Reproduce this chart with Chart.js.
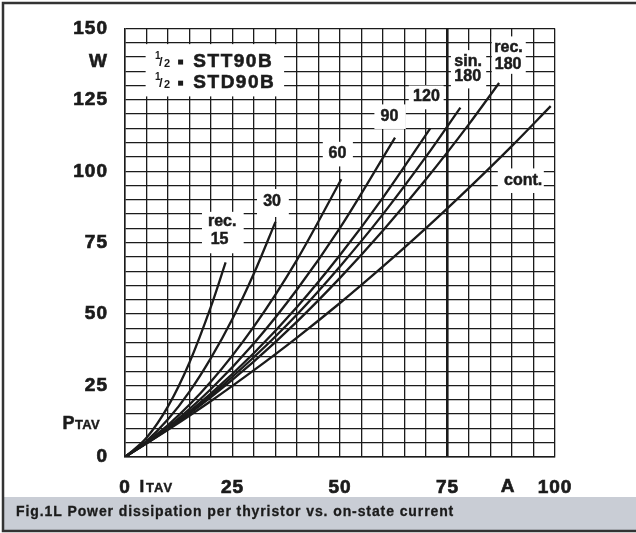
<!DOCTYPE html>
<html>
<head>
<meta charset="utf-8">
<script src="https://cdn.jsdelivr.net/npm/chart.js@4.4.1/dist/chart.umd.min.js"></script>
<style>
  html, body { margin: 0; padding: 0; background: #ffffff; }
  #wrap { position: relative; width: 636px; height: 533px; }
</style>
</head>
<body>
<div id="wrap"><canvas id="c"></canvas></div>
<script>
// ---- Data (I_TAV in A, P_TAV in W) ----
const currentCont   = [0, 10, 20, 30, 40, 50, 60, 70, 80, 90, 99];
const powerCont     = [0, 9.5, 19.6, 30.4, 41.8, 53.9, 66.7, 80.1, 94.2, 108.9, 122.8];

const currentRec180 = [0, 10, 20, 30, 40, 50, 60, 70, 80, 87];
const powerRec180   = [0, 9.8, 21.0, 33.5, 47.4, 62.7, 79.3, 97.2, 116.5, 130.9];

const currentSin180 = [0, 10, 20, 30, 40, 50, 60, 70, 78];
const powerSin180   = [0, 10.0, 21.6, 35.0, 49.9, 66.7, 85.0, 105.1, 122.3];

const currentRec120 = [0, 10, 20, 30, 40, 50, 60, 71];
const powerRec120   = [0, 10.1, 22.3, 36.4, 52.5, 70.7, 90.8, 115.0];

const currentRec90  = [0, 10, 20, 30, 40, 50, 62.8];
const powerRec90    = [0, 10.5, 23.8, 39.8, 58.6, 80.2, 111.8];

const currentRec60  = [0, 10, 20, 30, 40, 50.3];
const powerRec60    = [0, 11.2, 26.4, 45.7, 69.0, 97.2];

const currentRec30  = [0, 5, 10, 15, 20, 25, 30, 35];
const powerRec30    = [0, 5.6, 13.2, 22.9, 34.7, 48.4, 64.3, 82.3];

const currentRec15  = [0, 5, 10, 15, 20, 23.4];
const powerRec15    = [0, 6.7, 17.7, 33.1, 52.7, 68.1];

const xTickLabels = [0, 25, 50, 75, 100];
const yTickLabels = [0, 25, 50, 75, 100, 125, 150];

const captionText = 'Fig.1L Power dissipation per thyristor vs. on-state current';
const titleLines = ['STT90B', 'STD90B'];

// ---- Helpers ----
function pts(xs, ys) { return xs.map((x, i) => ({ x: x, y: ys[i] })); }
const INK = '#1b1b1b';
const FONT = '"Liberation Sans", Arial, Helvetica, sans-serif';

function curve(label, xs, ys) {
  return {
    label: label,
    data: pts(xs, ys),
    borderColor: INK,
    borderWidth: 2.3,
    pointRadius: 0,
    fill: false,
    cubicInterpolationMode: 'monotone'
  };
}

// Curve labels (positions in data units)
const curveLabels = [
  { lines: [['rec.', 22.6, 82.5], ['15', 22.0, 76.2]], box: [17.9, 27.6, 71.3, 85.8] },
  { lines: [['30', 34.2, 89.4]], box: [30.7, 38.1, 84.0, 93.8] },
  { lines: [['60', 49.4, 106.2]], box: [46.0, 53.0, 101.7, 110.3] },
  { lines: [['90', 61.5, 119.3]], box: [58.0, 65.3, 114.8, 123.4] },
  { lines: [['120', 70.1, 126.0]], box: [66.0, 74.1, 121.7, 130.0] },
  { lines: [['sin.', 79.8, 138.3], ['180', 79.7, 133.1]], box: [75.8, 84.0, 129.0, 142.4] },
  { lines: [['rec.', 89.2, 143.3], ['180', 89.1, 137.2]], box: [85.3, 93.2, 134.1, 147.2] },
  { lines: [['cont.', 92.6, 96.8]], box: [86.7, 97.4, 92.4, 101.0] }
];

function boldText(ctx, s, x, y, w) {
  ctx.lineWidth = w || 0.5;
  ctx.strokeStyle = ctx.fillStyle;
  ctx.strokeText(s, x, y);
  ctx.fillText(s, x, y);
}

const decorPlugin = {
  id: 'decor',
  beforeDraw(chart) {
    const ctx = chart.ctx;
    const W = chart.width, H = chart.height;
    ctx.save();
    ctx.fillStyle = '#ffffff';
    ctx.fillRect(0, 0, W, H);
    // caption bar
    ctx.fillStyle = '#c9cdd5';
    ctx.fillRect(3, 497, W - 3, 33);
    ctx.fillStyle = INK;
    ctx.font = 'bold 14px ' + FONT;
    ctx.letterSpacing = '0.9px';
    ctx.textBaseline = 'middle';
    ctx.textAlign = 'left';
    boldText(ctx, captionText, 16, 512, 0.3);
    ctx.letterSpacing = '0px';
    // outer frame
    ctx.strokeStyle = '#333333';
    ctx.lineWidth = 2.5;
    ctx.beginPath();
    ctx.moveTo(W, 3); ctx.lineTo(3, 3); ctx.lineTo(3, 531); ctx.lineTo(W, 531);
    ctx.stroke();
    ctx.restore();
    ctx.letterSpacing = '1px';
  },
  beforeDatasetsDraw(chart) {
    const ctx = chart.ctx;
    const xs = chart.scales.x, ys = chart.scales.y;
    const X = v => xs.getPixelForValue(v), Y = v => ys.getPixelForValue(v);
    ctx.save();
    ctx.letterSpacing = '0px';
    // white boxes + curve labels
    ctx.font = 'bold 16px ' + FONT;
    ctx.textAlign = 'center';
    ctx.textBaseline = 'middle';
    curveLabels.forEach(l => {
      const [x0, x1, y0, y1] = l.box;
      ctx.fillStyle = '#ffffff';
      ctx.fillRect(X(x0), Y(y1), X(x1) - X(x0), Y(y0) - Y(y1));
      ctx.fillStyle = INK;
      l.lines.forEach(t => boldText(ctx, t[0], X(t[1]), Y(t[2]), 0.5));
    });
    // title box
    ctx.fillStyle = '#ffffff';
    ctx.fillRect(X(4.8), Y(144.5), X(37) - X(4.8), Y(126.2) - Y(144.5));
    ctx.fillStyle = INK;
    [138.4, 131.0].forEach((pv, i) => {
      const yy = Y(pv);
      const x0 = X(7.0);
      ctx.textAlign = 'left';
      ctx.textBaseline = 'middle';
      ctx.font = 'bold 10px ' + FONT;
      ctx.fillText('1', x0, yy - 5);
      ctx.font = 'bold 13px ' + FONT;
      ctx.fillText('/', x0 + 4, yy + 0.5);
      ctx.font = 'bold 11px ' + FONT;
      ctx.fillText('2', x0 + 9, yy + 2);
      ctx.fillRect(x0 + 23, yy - 2, 5, 5);
      ctx.font = 'bold 19px ' + FONT;
      ctx.letterSpacing = '1.5px';
      boldText(ctx, titleLines[i], X(15.9), yy + 0.5, 0.6);
      ctx.letterSpacing = '0px';
    });
    // axis symbols
    ctx.textBaseline = 'middle';
    ctx.font = 'bold 19px ' + FONT;
    ctx.letterSpacing = '1px';
    ctx.textAlign = 'right';
    boldText(ctx, 'W', xs.left - 17, Y(138.4), 0.6);
    ctx.textAlign = 'center';
    boldText(ctx, 'A', X(89.1), 486.5, 0.6);
    ctx.letterSpacing = '0px';
    // P_TAV
    ctx.textAlign = 'left';
    ctx.textBaseline = 'alphabetic';
    ctx.font = 'bold 18px ' + FONT;
    boldText(ctx, 'P', 62.5, 428.5, 0.5);
    ctx.font = 'bold 13px ' + FONT;
    ctx.letterSpacing = '0.3px';
    boldText(ctx, 'TAV', 75, 428.5, 0.4);
    ctx.letterSpacing = '0px';
    // I_TAV
    ctx.font = 'bold 17px ' + FONT;
    boldText(ctx, 'I', 139.5, 492, 0.5);
    ctx.font = 'bold 13px ' + FONT;
    ctx.letterSpacing = '1px';
    boldText(ctx, 'TAV', 146, 492, 0.4);
    ctx.restore();
  }
};

const tickFont = { family: FONT, size: 19, weight: 'bold' };

new Chart(document.getElementById('c'), {
  type: 'line',
  data: {
    datasets: [
      curve('rec. 15', currentRec15, powerRec15),
      curve('30', currentRec30, powerRec30),
      curve('60', currentRec60, powerRec60),
      curve('90', currentRec90, powerRec90),
      curve('120', currentRec120, powerRec120),
      curve('sin. 180', currentSin180, powerSin180),
      curve('rec. 180', currentRec180, powerRec180),
      curve('cont.', currentCont, powerCont)
    ]
  },
  options: {
    responsive: true,
    maintainAspectRatio: false,
    animation: false,
    devicePixelRatio: 1,
    layout: { padding: { left: 0, top: 22, right: 81, bottom: 0 } },
    plugins: { legend: { display: false }, tooltip: { enabled: false } },
    scales: {
      x: {
        type: 'linear',
        min: 0, max: 100,
        afterFit(s) { s.height = 76; },
        grid: {
          color: INK, drawTicks: false,
          lineWidth: c => (c.tick && c.tick.value === 75 ? 2.6 : 1.3)
        },
        border: { color: INK, width: 1.5 },
        ticks: {
          stepSize: 5, autoSkip: false, maxRotation: 0, padding: 19,
          color: INK, font: tickFont, textStrokeColor: INK, textStrokeWidth: 0.7,
          callback: v => (xTickLabels.includes(v) ? String(v) : '')
        }
      },
      y: {
        type: 'linear',
        min: 0, max: 150,
        afterFit(s) { s.width = 125; },
        grid: { color: INK, drawTicks: false, lineWidth: 1.3 },
        border: { color: INK, width: 1.5 },
        ticks: {
          stepSize: 5, autoSkip: false, padding: 17,
          color: INK, font: tickFont, textStrokeColor: INK, textStrokeWidth: 0.7,
          callback: v => (yTickLabels.includes(v) ? String(v) : '')
        }
      }
    }
  },
  plugins: [decorPlugin]
});
</script>
</body>
</html>
